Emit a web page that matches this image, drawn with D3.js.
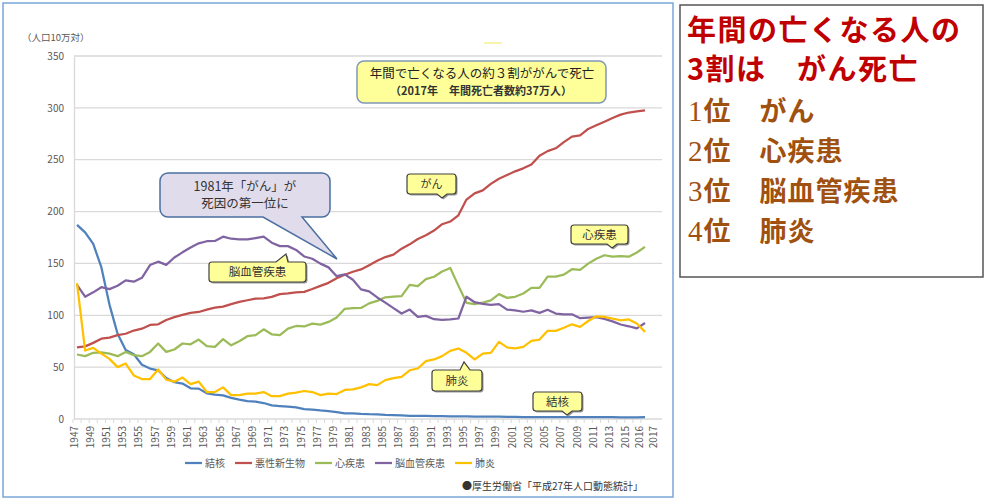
<!DOCTYPE html>
<html>
<head>
<meta charset="utf-8">
<script src="https://cdn.jsdelivr.net/npm/d3@7"></script>
<style>
  body { margin: 0; background: #fff; }
  svg { display: block; font-family: "Noto Sans CJK JP", sans-serif; }
</style>
</head>
<body>
<svg width="1000" height="501"></svg>
<script>
const years = [1947, 1948, 1949, 1950, 1951, 1952, 1953, 1954, 1955, 1956, 1957, 1958, 1959,
  1960, 1961, 1962, 1963, 1964, 1965, 1966, 1967, 1968, 1969, 1970, 1971, 1972, 1973, 1974,
  1975, 1976, 1977, 1978, 1979, 1980, 1981, 1982, 1983, 1984, 1985, 1986, 1987, 1988, 1989,
  1990, 1991, 1992, 1993, 1994, 1995, 1996, 1997, 1998, 1999, 2000, 2001, 2002, 2003, 2004,
  2005, 2006, 2007, 2008, 2009, 2010, 2011, 2012, 2013, 2014, 2015, 2016, 2017]

// 人口10万対の死亡率
const tuberculosis = [187.2, 179.9, 168.8, 146.4, 110.3, 82.2, 66.5, 62.4, 52.3, 48.6, 46.9, 39.5, 35.5,
  34.2, 29.6, 29.3, 24.8, 23.6, 22.8, 20.3, 18.6, 17.3, 16.8, 15.4, 13.2, 12.5, 11.9, 11.2,
  9.5, 9.1, 8.3, 7.7, 6.7, 5.5, 5.4, 4.9, 4.6, 4.5, 3.9, 3.7, 3.4, 3.1, 3.1,
  3.0, 2.8, 2.7, 2.6, 2.6, 2.6, 2.3, 2.2, 2.2, 2.3, 2.1, 2.0, 1.8, 1.9, 1.8,
  1.8, 1.8, 1.7, 1.8, 1.7, 1.7, 1.7, 1.7, 1.7, 1.6, 1.5, 1.5, 1.8]

const cancer = [69.0, 70.0, 73.4, 77.4, 78.5, 80.8, 82.2, 85.3, 87.1, 90.7, 91.3, 95.5, 98.2,
  100.4, 102.3, 103.2, 105.5, 107.4, 108.4, 110.8, 113.0, 114.5, 116.0, 116.3, 117.7, 120.4, 121.2, 122.2,
  122.6, 125.3, 128.4, 131.3, 135.7, 139.1, 142.0, 144.2, 148.3, 152.5, 156.1, 158.5, 164.2, 168.4, 173.6,
  177.2, 181.7, 187.8, 190.4, 196.4, 211.6, 217.5, 220.4, 226.7, 231.6, 235.2, 238.8, 241.7, 245.4, 253.9,
  258.3, 261.0, 266.9, 272.3, 273.5, 279.7, 283.2, 286.6, 290.3, 293.5, 295.5, 296.5, 297.5]

const heart = [62.2, 60.6, 63.8, 64.2, 63.0, 60.6, 64.7, 61.5, 60.6, 64.7, 72.8, 64.7, 67.0,
  72.8, 72.0, 76.6, 70.2, 69.5, 77.0, 71.0, 75.0, 79.8, 80.8, 86.5, 81.7, 80.8, 87.2, 89.7,
  89.2, 92.0, 91.0, 93.6, 97.8, 106.2, 107.0, 107.1, 111.5, 113.9, 117.3, 117.9, 118.4, 129.4, 128.1,
  134.8, 137.2, 142.2, 145.6, 128.6, 112.0, 110.8, 112.2, 114.3, 120.4, 116.8, 117.8, 121.0, 126.5, 126.5,
  137.2, 137.2, 139.2, 144.4, 143.7, 149.8, 154.5, 157.9, 156.5, 157.0, 156.5, 160.5, 166.0]

const stroke = [129.4, 117.9, 122.1, 127.1, 125.2, 128.5, 133.7, 132.4, 136.1, 148.4, 151.7, 148.6, 155.7,
  160.7, 165.4, 169.4, 171.4, 171.7, 175.8, 173.8, 173.1, 173.1, 174.4, 175.8, 170.0, 166.7, 166.7, 163.0,
  156.7, 154.5, 149.8, 146.2, 137.7, 139.5, 134.3, 125.0, 123.0, 117.2, 112.2, 106.9, 101.7, 105.5, 98.5,
  99.4, 96.2, 95.6, 96.0, 96.9, 117.9, 112.6, 111.0, 110.0, 110.8, 105.5, 104.7, 103.4, 104.7, 102.3,
  105.3, 101.7, 100.8, 100.9, 97.2, 97.7, 98.2, 96.5, 94.1, 91.1, 89.4, 87.4, 92.5]

const pneumonia = [131.0, 66.0, 68.6, 63.0, 58.0, 50.0, 53.5, 42.0, 38.5, 38.5, 47.8, 38.0, 36.0,
  40.0, 33.6, 36.0, 26.0, 26.0, 30.5, 23.0, 23.0, 24.5, 24.5, 26.0, 22.0, 22.0, 24.5, 25.5,
  27.0, 26.0, 23.0, 24.5, 24.0, 28.0, 28.5, 30.5, 33.6, 32.7, 37.5, 39.4, 40.7, 47.0, 48.7,
  55.8, 57.4, 60.6, 65.7, 68.0, 63.8, 57.4, 63.0, 63.8, 74.3, 69.0, 68.0, 69.5, 75.3, 76.6,
  85.0, 85.0, 88.0, 91.3, 88.8, 94.5, 99.0, 98.4, 96.8, 95.2, 96.0, 92.0, 84.0]

const seriesNames = ['結核', '悪性新生物', '心疾患', '脳血管疾患', '肺炎']
const seriesValues = [tuberculosis, cancer, heart, stroke, pneumonia]
const seriesColors = ['#4f81bd', '#c0504d', '#9bbb59', '#8064a2', '#ffc000']

const yTicks = [0, 50, 100, 150, 200, 250, 300, 350]
const xTickLabels = ['1947', '1949', '1951', '1953', '1955', '1957', '1959', '1961', '1963', '1965',
  '1967', '1969', '1971', '1973', '1975', '1977', '1979', '1981', '1983', '1985', '1987', '1989',
  '1991', '1993', '1995', '1997', '1999', '2001', '2003', '2005', '2007', '2009', '2011', '2013',
  '2015', '2016', '2017']

const rankLines = [['1', '位　がん'], ['2', '位　心疾患'], ['3', '位　脳血管疾患'], ['4', '位　肺炎']]

const svg = d3.select('svg')
const grey = '#595959'

let plotLeft = 74
let plotRight = 662
let plotTop = 55
let plotBottom = 419

let xScale = d3.scaleLinear()
  .domain([1947, 2017])
  .range([77, 645])

let yScale = d3.scaleLinear()
  .domain([0, 350])
  .range([plotBottom, plotTop + 1])

// chart frame (light blue) and right text box
svg.append('rect')
  .attr('x', 3).attr('y', 3)
  .attr('width', 670).attr('height', 494)
  .attr('fill', 'none')
  .attr('stroke', '#7ba7d9')
  .attr('stroke-width', 1.5)

svg.append('rect')
  .attr('x', 680).attr('y', 5)
  .attr('width', 303).attr('height', 272)
  .attr('fill', 'none')
  .attr('stroke', '#555')
  .attr('stroke-width', 1.5)

// gridlines
svg.append('g')
  .selectAll('line')
  .data(yTicks.filter(d => d > 0))
  .enter()
  .append('line')
    .attr('x1', plotLeft).attr('x2', plotRight)
    .attr('y1', d => yScale(d)).attr('y2', d => yScale(d))
    .attr('stroke', '#d9d9d9')
    .attr('stroke-width', 1.3)

// y axis
let yAxis = d3.axisLeft(yScale)
  .tickValues(yTicks)
  .tickSize(0)
  .tickPadding(10)

let yG = svg.append('g')
  .attr('transform', `translate(${plotLeft}, 0)`)
  .call(yAxis)
yG.select('.domain').attr('stroke', '#d9d9d9').attr('stroke-width', 1.3)
yG.selectAll('text')
  .attr('fill', grey)
  .style('font-size', '10px')
  .style('font-family', '"Noto Sans CJK JP", sans-serif')

// x axis line + little ticks
svg.append('line')
  .attr('x1', plotLeft).attr('x2', plotRight)
  .attr('y1', plotBottom).attr('y2', plotBottom)
  .attr('stroke', '#d9d9d9')
  .attr('stroke-width', 1.3)

svg.append('g')
  .selectAll('line')
  .data(years)
  .enter()
  .append('line')
    .attr('x1', d => xScale(d) - 4).attr('x2', d => xScale(d) - 4)
    .attr('y1', plotBottom).attr('y2', plotBottom + 4)
    .attr('stroke', '#d9d9d9')

// x labels: the last two are spread out like in the source chart
let lastStep = 14
svg.append('g')
  .selectAll('text')
  .data(xTickLabels)
  .enter()
  .append('text')
    .attr('transform', (d, i) => {
      let extra = i - (xTickLabels.length - 3)
      let x = extra > 0 ? xScale(2015) + extra * lastStep : xScale(+d)
      return `translate(${x - 3}, ${plotBottom + 7}) rotate(-90)`
    })
    .attr('dy', '0.35em')
    .style('text-anchor', 'end')
    .style('font-size', '10px')
    .attr('fill', grey)
    .text(d => d)

// y axis title
svg.append('text')
  .attr('x', 22).attr('y', 41)
  .style('font-size', '9.5px')
  .attr('fill', grey)
  .text('（人口10万対）')

// lines
let line = d3.line()
  .x((d, i) => xScale(years[i]))
  .y(d => yScale(d))

svg.append('g')
  .selectAll('path')
  .data(seriesValues)
  .enter()
  .append('path')
    .attr('d', d => line(d))
    .attr('fill', 'none')
    .attr('stroke', (d, i) => seriesColors[i])
    .attr('stroke-width', 2.25)
    .attr('stroke-linejoin', 'round')

// callouts
function balloon (b) {
  let { x, y, w, h, r, tail } = b
  let p = `M${x + r},${y}`
  if (tail && tail.side === 'top') p += `L${tail.a},${y}L${tail.tx},${tail.ty}L${tail.b},${y}`
  p += `H${x + w - r}A${r},${r} 0 0 1 ${x + w},${y + r}V${y + h - r}A${r},${r} 0 0 1 ${x + w - r},${y + h}`
  if (tail && tail.side === 'bottom') p += `L${tail.b},${y + h}L${tail.tx},${tail.ty}L${tail.a},${y + h}`
  p += `H${x + r}A${r},${r} 0 0 1 ${x},${y + h - r}V${y + r}A${r},${r} 0 0 1 ${x + r},${y}Z`
  return p
}

let labelBoxes = [
  { text: '脳血管疾患', x: 209, y: 262, w: 97, h: 20, r: 3, size: 11.5, tail: { side: 'top', a: 276, b: 288, tx: 286, ty: 254 } },
  { text: 'がん', x: 407, y: 174, w: 49, h: 20, r: 3, size: 11, tail: { side: 'bottom', a: 437, b: 447, tx: 442, ty: 198 } },
  { text: '心疾患', x: 571, y: 225, w: 57, h: 19, r: 3, size: 11.5, tail: { side: 'bottom', a: 607, b: 617, tx: 612, ty: 248 } },
  { text: '肺炎', x: 432, y: 370, w: 50, h: 21, r: 3, size: 11.5, tail: { side: 'top', a: 460, b: 470, tx: 464, ty: 362 } },
  { text: '結核', x: 533, y: 392, w: 49, h: 19, r: 3, size: 11.5, tail: { side: 'bottom', a: 562, b: 572, tx: 567, ty: 415 } }
]

let lb = svg.append('g').selectAll('g')
  .data(labelBoxes)
  .enter()
  .append('g')

lb.append('path')
  .attr('d', d => balloon(d))
  .attr('transform', 'translate(1.5, 1.5)')
  .attr('fill', '#9a9a9a')
lb.append('path')
  .attr('d', d => balloon(d))
  .attr('fill', '#ffff99')
  .attr('stroke', '#404040')
  .attr('stroke-width', 1.2)
lb.append('text')
  .attr('x', d => d.x + d.w / 2)
  .attr('y', d => d.y + d.h / 2)
  .attr('dy', '0.36em')
  .style('text-anchor', 'middle')
  .style('font-size', d => d.size + 'px')
  .attr('fill', '#333')
  .text(d => d.text)

// 1981 callout
svg.append('path')
  .attr('d', balloon({ x: 160, y: 173, w: 170, h: 44, r: 8, tail: { side: 'bottom', a: 263, b: 302, tx: 337, ty: 259 } }))
  .attr('fill', '#e0dcec')
  .attr('stroke', '#4a6fa0')
  .attr('stroke-width', 1.5)

svg.append('text')
  .attr('x', 245).attr('y', 191)
  .style('text-anchor', 'middle')
  .style('font-size', '12.5px')
  .attr('fill', '#333')
  .text('1981年「がん」が')
svg.append('text')
  .attr('x', 245).attr('y', 208)
  .style('text-anchor', 'middle')
  .style('font-size', '12.5px')
  .attr('fill', '#333')
  .text('死因の第一位に')

// main callout
svg.append('path')
  .attr('d', balloon({ x: 357, y: 61, w: 249, h: 42, r: 7 }))
  .attr('fill', '#ffff99')
  .attr('stroke', '#7f98b8')
  .attr('stroke-width', 1.5)

svg.append('text')
  .attr('x', 482).attr('y', 78)
  .style('text-anchor', 'middle')
  .style('font-size', '12.5px')
  .attr('fill', '#222')
  .text('年間で亡くなる人の約３割ががんで死亡')
svg.append('text')
  .attr('x', 481).attr('y', 95)
  .style('text-anchor', 'middle')
  .style('font-size', '11px')
  .style('font-weight', 'bold')
  .attr('fill', '#333')
  .text('（2017年　年間死亡者数約37万人）')

svg.append('line')
  .attr('x1', 484).attr('x2', 502)
  .attr('y1', 43).attr('y2', 43)
  .attr('stroke', '#f2ea5a')
  .attr('stroke-width', 1)

// legend
let lx = 185
seriesNames.forEach((name, i) => {
  svg.append('line')
    .attr('x1', lx).attr('x2', lx + 17)
    .attr('y1', 463).attr('y2', 463)
    .attr('stroke', seriesColors[i])
    .attr('stroke-width', 2.25)
  let t = svg.append('text')
    .attr('x', lx + 20).attr('y', 463)
    .attr('dy', '0.36em')
    .style('font-size', '10px')
    .attr('fill', grey)
    .text(name)
  lx += 20 + t.node().getComputedTextLength() + 10
})

// source
svg.append('text')
  .attr('x', 643).attr('y', 486)
  .attr('dy', '0.36em')
  .style('text-anchor', 'end')
  .style('font-size', '10px')
  .attr('fill', '#333')
  .text('●厚生労働省「平成27年人口動態統計」')

// right panel text
svg.append('text')
  .attr('x', 687).attr('y', 41)
  .style('font-size', '29px')
  .style('font-weight', 'bold')
  .style('letter-spacing', '1.5px')
  .attr('fill', '#c00000')
  .text('年間の亡くなる人の')
svg.append('text')
  .attr('x', 687).attr('y', 80)
  .style('font-size', '29px')
  .style('font-weight', 'bold')
  .style('letter-spacing', '1.5px')
  .attr('fill', '#c00000')
  .text('3割は　がん死亡')

let rank = svg.append('g')
  .selectAll('text')
  .data(rankLines)
  .enter()
  .append('text')
    .attr('x', 688)
    .attr('y', (d, i) => 121 + i * 40)
    .style('font-size', '27px')
    .style('font-weight', 'bold')
    .style('letter-spacing', '1px')
    .attr('fill', '#a0500f')
rank.append('tspan')
  .style('font-family', '"Liberation Serif", serif')
  .style('font-weight', 'normal')
  .style('font-size', '29px')
  .text(d => d[0])
rank.append('tspan')
  .text(d => d[1])
</script>
</body>
</html>
